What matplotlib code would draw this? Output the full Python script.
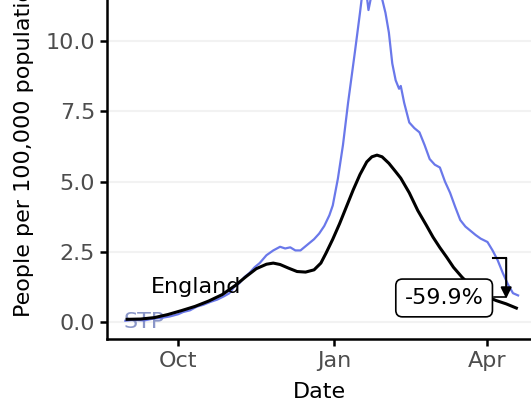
import pandas as pd
import matplotlib
matplotlib.use("Agg")
import matplotlib.pyplot as plt
import matplotlib.dates as mdates

# data: days counted from 1 Oct 2020
base = pd.Timestamp("2020-10-01")

england_days = [-30, -22, -14, -6, 2, 10, 18, 26, 34, 40, 46, 52, 56, 60, 65, 70, 75, 80, 84, 87,
                91, 95, 99, 103, 107, 111, 114, 117, 120, 124, 128, 131, 136, 141, 146, 150, 154,
                158, 162, 167, 172, 177, 182, 187, 193, 199]
england_vals = [0.10, 0.11, 0.16, 0.27, 0.41, 0.56, 0.75, 0.98, 1.32, 1.62, 1.90, 2.06, 2.10, 2.05,
                1.92, 1.80, 1.78, 1.86, 2.10, 2.45, 2.95, 3.50, 4.10, 4.70, 5.25, 5.70, 5.88, 5.94,
                5.88, 5.65, 5.35, 5.12, 4.60, 3.97, 3.45, 3.02, 2.65, 2.31, 1.95, 1.60, 1.30, 1.07,
                0.90, 0.77, 0.65, 0.50]

stp_days = [-31, -26, -20, -15, -10, -5, 0, 3, 7, 11, 15, 19, 23, 27, 30, 33, 36, 39, 42, 45, 48,
            52, 56, 60, 63, 66, 69, 72, 76, 80, 83, 86, 89, 91, 94, 97, 100, 104, 107, 108, 109,
            110, 112, 114, 116, 118, 120, 122, 124, 126, 128, 130, 131, 133, 136, 139, 142, 145,
            148, 151, 154, 157, 160, 163, 166, 169, 172, 175, 178, 182, 185, 188, 191, 194, 197, 200]
stp_vals = [0.05, 0.08, 0.06, 0.12, 0.15, 0.20, 0.28, 0.36, 0.42, 0.55, 0.62, 0.72, 0.80, 0.92,
            1.02, 1.25, 1.38, 1.60, 1.75, 1.95, 2.10, 2.38, 2.55, 2.68, 2.62, 2.66, 2.55, 2.55,
            2.75, 2.95, 3.15, 3.42, 3.80, 4.15, 5.10, 6.30, 7.80, 9.60, 11.0, 11.5, 11.9, 12.1,
            11.1, 11.7, 12.1, 12.0, 11.5, 11.0, 10.3, 9.2, 8.6, 8.3, 8.4, 7.8, 7.1, 6.9, 6.75, 6.3,
            5.8, 5.6, 5.5, 5.0, 4.6, 4.1, 3.63, 3.4, 3.25, 3.1, 2.97, 2.85, 2.55, 2.2, 1.75, 1.35,
            1.03, 0.95]

change_label = "-59.9%"
change_from = 2.28
change_to = 0.92
change_days = [185, 193]

england_x = base + pd.to_timedelta(england_days, unit="D")
stp_x = base + pd.to_timedelta(stp_days, unit="D")

plt.rcParams['font.family'] = ['DejaVu Sans']
plt.rcParams['font.size'] = 16

fig = plt.figure(figsize=(5.31, 4.03), dpi=100)
ax = fig.add_axes([0.2015, 0.1588, 0.7985, 0.9628])

ax.plot(stp_x, stp_vals, color='#6a78ea', lw=1.6, zorder=3)
ax.plot(england_x, england_vals, color='black', lw=2.2, zorder=4)

ax.text(base + pd.Timedelta(days=-32), 0.0, "STP", color='#8a96c8', va='center', ha='left',
        fontsize=16, zorder=2)
ax.text(base + pd.Timedelta(days=10.5), 1.25, "England", color='black', va='center', ha='center',
        fontsize=16, zorder=5)

# change arrow
x0 = base + pd.Timedelta(days=change_days[0])
x1 = base + pd.Timedelta(days=change_days[1])
ax.plot([x0, x1], [change_from, change_from], color='black', lw=1.5, zorder=5)
ax.annotate("", xy=(x1, change_to - 0.08), xytext=(x1, change_from),
            arrowprops=dict(arrowstyle='-|>', color='black', lw=1.5, mutation_scale=16,
                            shrinkA=0, shrinkB=0), zorder=5)
ax.plot([base + pd.Timedelta(days=186), x1], [0.9, 0.9], color='black', lw=1.2, zorder=5)
ax.text(base + pd.Timedelta(days=156.5), 0.86, change_label, ha='center', va='center',
        fontsize=16, zorder=6,
        bbox=dict(boxstyle='round,pad=0.4,rounding_size=0.3', fc='white', ec='black', lw=1.2))

ax.set_xlim(base + pd.Timedelta(days=-41.8), base + pd.Timedelta(days=207.6))
ax.set_ylim(-0.6, 13.2)
ax.set_yticks([0, 2.5, 5.0, 7.5, 10.0])
ax.set_yticklabels(["0.0", "2.5", "5.0", "7.5", "10.0"])
ax.xaxis.set_major_locator(mdates.MonthLocator(bymonth=[1, 4, 7, 10]))
ax.xaxis.set_major_formatter(mdates.DateFormatter('%b'))

for s in ['top', 'right']:
    ax.spines[s].set_visible(False)
for s in ['left', 'bottom']:
    ax.spines[s].set_linewidth(1.8)
ax.tick_params(length=5, width=1.8, colors='#4d4d4d', labelsize=16)
ax.tick_params(axis='both', color='black')
ax.yaxis.grid(True, color='#f2f2f2', lw=1.5)
ax.set_axisbelow(True)

ax.set_xlabel("Date", fontsize=16, labelpad=8)
ax.set_ylabel("People per 100,000 population", fontsize=16, labelpad=8)

fig.savefig("out.png", dpi=100)
